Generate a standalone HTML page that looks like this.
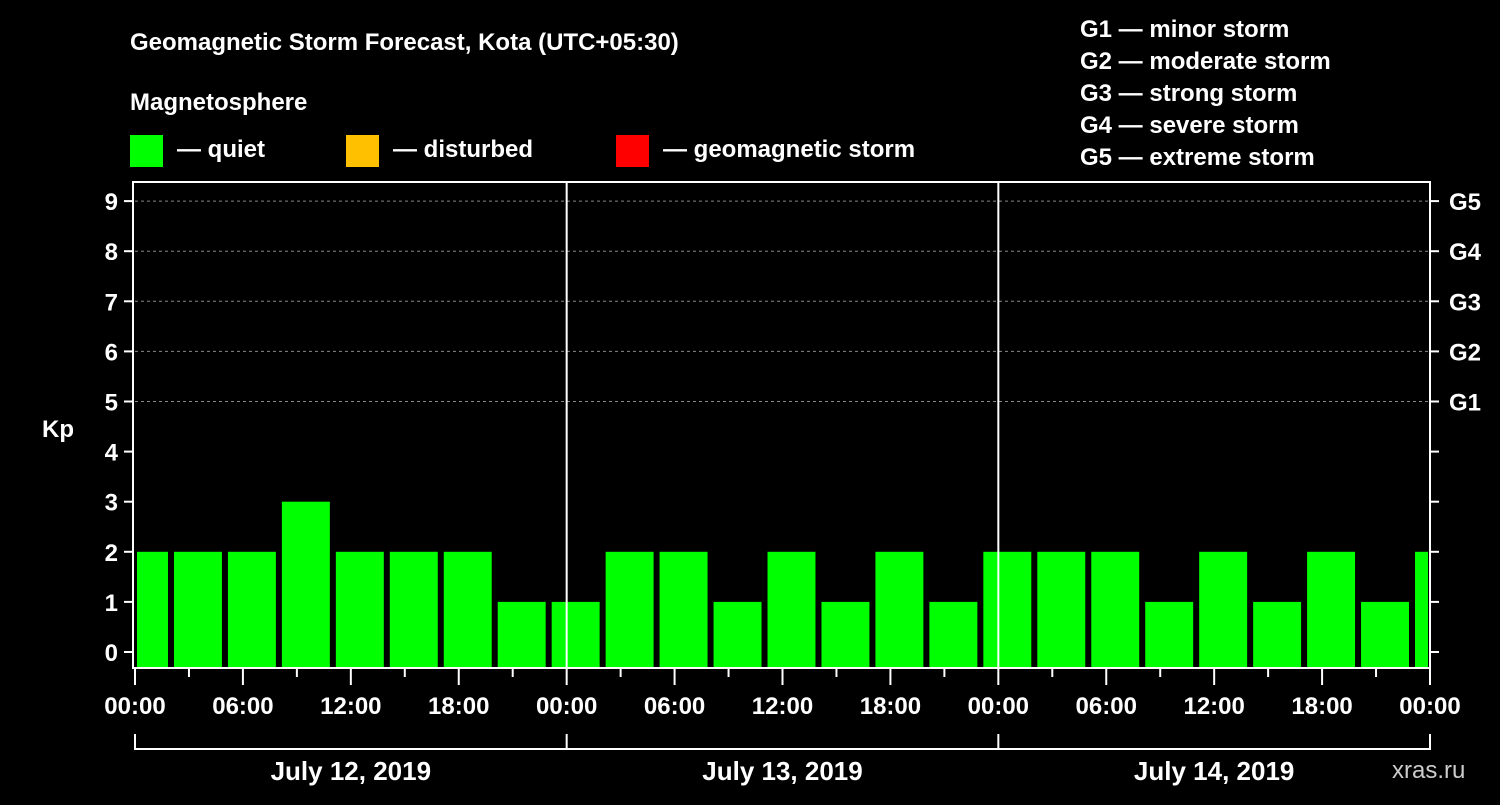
<!DOCTYPE html>
<html><head><meta charset="utf-8"><style>
body{margin:0;background:#000;width:1500px;height:800px;overflow:hidden}
svg text{font-family:"Liberation Sans",sans-serif;font-weight:bold;fill:#fff}
</style></head><body>
<svg id="c" width="1500" height="800">
<text x="130" y="50" font-size="24">Geomagnetic Storm Forecast, Kota (UTC+05:30)</text>
<text x="130" y="110" font-size="24">Magnetosphere</text>
<rect x="130" y="135" width="33" height="32" fill="#00ff00"/>
<text x="177" y="157" font-size="24">— quiet</text>
<rect x="346" y="135" width="33" height="32" fill="#ffc000"/>
<text x="393" y="157" font-size="24">— disturbed</text>
<rect x="616" y="135" width="33" height="32" fill="#ff0000"/>
<text x="663" y="157" font-size="24">— geomagnetic storm</text>
<g font-size="24">
<text x="1080" y="37">G1 — minor storm</text>
<text x="1080" y="69">G2 — moderate storm</text>
<text x="1080" y="101">G3 — strong storm</text>
<text x="1080" y="133">G4 — severe storm</text>
<text x="1080" y="165">G5 — extreme storm</text>
</g>
<text x="42" y="437" font-size="24">Kp</text>
<text x="1392" y="778" font-size="24" font-weight="normal" fill="#bbb" style="font-weight:normal;fill:#ccc">xras.ru</text>
<g id="plot"></g>
</svg>
<script>
const values=[2,2,2,3,2,2,2,1,1,2,2,1,2,1,2,1,2,2,2,1,2,1,2,1,2];
const yTicks=[0,1,2,3,4,5,6,7,8,9];
const gLabels=["G1","G2","G3","G4","G5"];
const gLevels=[5,6,7,8,9];
const xTickLabels=["00:00","06:00","12:00","18:00","00:00","06:00","12:00","18:00","00:00","06:00","12:00","18:00","00:00"];
const dayLabels=["July 12, 2019","July 13, 2019","July 14, 2019"];
const barOffsetHours=0.5, barHours=3;
const X0=135,X1=1430,TOT=72;
const x=h=>X0+h*(X1-X0)/TOT;
const y=v=>652-v*50.1;
const ns="http://www.w3.org/2000/svg",P=document.getElementById('plot');
function mk(t,a,txt){const e=document.createElementNS(ns,t);for(const k in a)e.setAttribute(k,a[k]);if(txt!=null)e.textContent=txt;P.appendChild(e);return e;}
// grid
gLevels.forEach(v=>{const e=mk('line',{x1:X0,x2:X1,y1:y(v),y2:y(v),stroke:'#888','stroke-dasharray':'3,3','stroke-width':1});

});
// bars
values.forEach((v,i)=>{const c=barOffsetHours+i*barHours;let a=x(c-barHours/2)+3,b=x(c+barHours/2)-3;a=Math.max(a,X0+2);b=Math.min(b,X1-2);
const col=v>=5?'#ff0000':v>=4?'#ffc000':'#00ff00';
const r=mk('rect',{x:a,y:y(v),width:b-a,height:668-y(v),fill:col});

});
// day separators
[24,48].forEach(h=>{const e=mk('line',{x1:x(h),x2:x(h),y1:182,y2:668,stroke:'#fff','stroke-width':2});

});
// axes frame
const f=mk('rect',{x:133,y:182,width:X1-133,height:486,fill:'none',stroke:'#fff','stroke-width':2});


yTicks.forEach(v=>{mk('line',{x1:124,x2:133,y1:y(v),y2:y(v),stroke:'#fff','stroke-width':2});
mk('line',{x1:X1,x2:X1+9,y1:y(v),y2:y(v),stroke:'#fff','stroke-width':2});
const t=mk('text',{x:118,y:y(v)+9,'font-size':24,'text-anchor':'end'},String(v));

});
gLabels.forEach((g,i)=>{const t=mk('text',{x:1449,y:y(gLevels[i])+9,'font-size':24},g);

});
for(let h=0;h<=TOT;h+=3){const major=h%6==0;mk('line',{x1:x(h),x2:x(h),y1:669,y2:major?685:677,stroke:'#fff','stroke-width':2});}
xTickLabels.forEach((l,i)=>{const t=mk('text',{x:x(i*6),y:714,'font-size':24,'text-anchor':'middle'},l);

});
mk('line',{x1:X0,x2:X1,y1:749,y2:749,stroke:'#fff','stroke-width':2});
[0,24,48,72].forEach(h=>mk('line',{x1:x(h),x2:x(h),y1:734,y2:750,stroke:'#fff','stroke-width':2}));
dayLabels.forEach((d,i)=>{const t=mk('text',{x:x(i*24+12),y:780,'font-size':26,'text-anchor':'middle'},d);

});
</script>
</body></html>
